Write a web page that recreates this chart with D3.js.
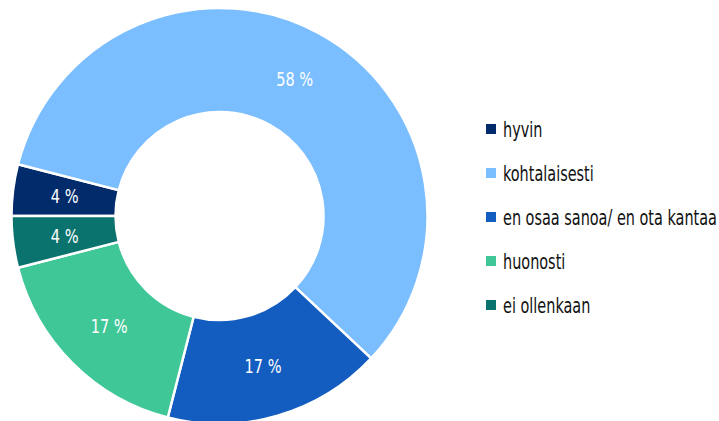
<!DOCTYPE html>
<html>
<head>
<meta charset="utf-8">
<script src="https://cdn.jsdelivr.net/npm/d3@7"></script>
<style>
  body { margin: 0; background: #fff; }
  svg text { font-family: "DejaVu Sans Condensed", "Roboto", sans-serif; }
</style>
</head>
<body>
<svg id="chart" width="719" height="421"></svg>
<script>
// Vastausluokat ja osuudet (%)
const categories = ["hyvin", "kohtalaisesti", "en osaa sanoa/ en ota kantaa", "huonosti", "ei ollenkaan"];
const values = [4, 58, 17, 17, 4];
const colors = ["#022b6b", "#7abeff", "#135dc0", "#3fc797", "#0a736e"];

const svg = d3.select("#chart");
const cx = 219.5, cy = 216;
const outerR = 208, innerR = 104;

const data = categories.map((c, i) => ({ label: c, value: values[i], color: colors[i] }));

const pie = d3.pie()
    .sort(null)
    .value(d => d.value)
    .startAngle(-Math.PI / 2)
    .endAngle(3 * Math.PI / 2);

const arc = d3.arc().innerRadius(innerR).outerRadius(outerR);

const g = svg.append("g").attr("transform", "translate(" + cx + "," + cy + ")");

const slices = g.selectAll("g.slice")
    .data(pie(data))
    .join("g")
    .attr("class", "slice");

slices.append("path")
    .attr("d", arc)
    .attr("fill", d => d.data.color)
    .attr("stroke", "#fff")
    .attr("stroke-width", 2.5);

// kapea fontti: puristetaan tekstiä vaakasuunnassa
const labels = slices.append("g")
    .attr("transform", d => "translate(" + arc.centroid(d) + ")")
    .append("text")
    .attr("text-anchor", "middle")
    .attr("dy", "0.35em")
    .attr("fill", "#fff")
    .attr("font-size", 20)
    .text(d => d.data.value + " %");

const w58 = labels.filter(d => d.data.value === 58).node().getComputedTextLength();
const kLab = 37 / w58;
labels.attr("transform", "scale(" + kLab + ",1)");

// Selite
const legend = svg.append("g").attr("transform", "translate(486,129)");
const rows = legend.selectAll("g")
    .data(data)
    .join("g")
    .attr("transform", (d, i) => "translate(0," + i * 44 + ")");

rows.append("rect")
    .attr("x", 0)
    .attr("y", -5)
    .attr("width", 10)
    .attr("height", 10)
    .attr("fill", d => d.color);

const legTexts = rows.append("g")
    .attr("transform", "translate(17,0)")
    .append("text")
    .attr("dy", "0.35em")
    .attr("fill", "#111")
    .attr("font-size", 22)
    .text(d => d.label);

const wLong = legTexts.filter(d => d.label.length > 20).node().getComputedTextLength();
const kLeg = 214 / wLong;
legTexts.attr("transform", "scale(" + kLeg + ",1)");
</script>
</body>
</html>
